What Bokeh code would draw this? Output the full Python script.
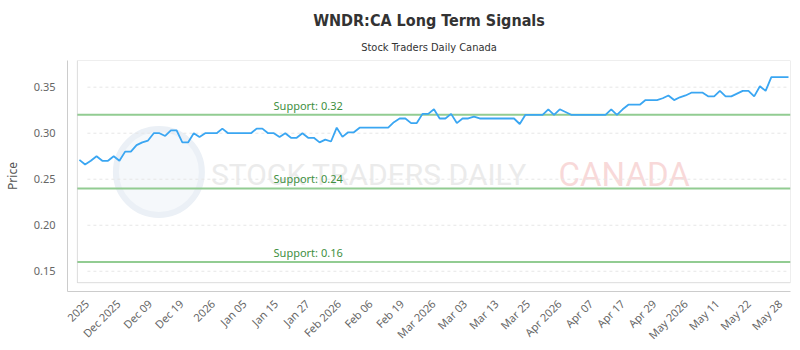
import numpy as np
from bokeh.plotting import figure
from bokeh.models import (Range1d, FixedTicker, CustomJSTickFormatter, NumeralTickFormatter,
                          Title, BoxAnnotation, ColumnDataSource)
from bokeh.core.properties import value
from bokeh.embed import file_html
from bokeh.resources import INLINE

# ---------------- data ----------------
prices = [
    0.271, 0.266, 0.270, 0.275, 0.270, 0.270, 0.275, 0.270, 0.280, 0.280,
    0.287, 0.290, 0.292, 0.300, 0.300, 0.297, 0.303, 0.303, 0.290, 0.290,
    0.300, 0.296, 0.300, 0.300, 0.300, 0.305, 0.300, 0.300, 0.300, 0.300,
    0.300, 0.305, 0.305, 0.300, 0.300, 0.296, 0.300, 0.295, 0.295, 0.300,
    0.295, 0.295, 0.290, 0.293, 0.291, 0.306, 0.296, 0.301, 0.301, 0.306,
    0.306, 0.306, 0.306, 0.306, 0.306, 0.312, 0.316, 0.316, 0.311, 0.311,
    0.321, 0.321, 0.326, 0.316, 0.316, 0.321, 0.311, 0.316, 0.316, 0.318,
    0.316, 0.316, 0.316, 0.316, 0.316, 0.316, 0.316, 0.310, 0.320, 0.320,
    0.320, 0.320, 0.326, 0.320, 0.326, 0.323, 0.320, 0.320, 0.320, 0.320,
    0.320, 0.320, 0.320, 0.326, 0.320, 0.326, 0.331, 0.331, 0.331, 0.336,
    0.336, 0.336, 0.338, 0.341, 0.336, 0.339, 0.341, 0.344, 0.344, 0.344,
    0.340, 0.340, 0.346, 0.340, 0.340, 0.343, 0.346, 0.346, 0.340, 0.351,
    0.346, 0.361, 0.361, 0.361, 0.361,
]

tick_labels = [
    "2025", "Dec 2025", "Dec 09", "Dec 19", "2026", "Jan 05", "Jan 15", "Jan 27",
    "Feb 2026", "Feb 06", "Feb 19", "Mar 2026", "Mar 03", "Mar 13", "Mar 25",
    "Apr 2026", "Apr 07", "Apr 17", "Apr 29", "May 2026", "May 11", "May 22", "May 28",
]

support_levels = [0.32, 0.24, 0.16]
support_texts = ["Support: 0.32", "Support: 0.24", "Support: 0.16"]
y_ticks = [0.15, 0.20, 0.25, 0.30, 0.35]

title_text = "WNDR:CA Long Term Signals"
subtitle_text = "Stock Traders Daily Canada"

# ---------------- layout / style ----------------
n = len(prices)
idx = np.arange(n)
pad = 0.35
x_left = -2.08
y_lo, y_hi = 0.128, 0.379
box_bottom = 0.1376
title_font = "DejaVu Sans Condensed"

p = figure(width=800, height=350, output_backend="svg", toolbar_location=None,
           x_range=Range1d(x_left, n - 1 + pad), y_range=Range1d(y_lo, y_hi),
           min_border_left=60, min_border_right=10, min_border_top=60, min_border_bottom=54,
           background_fill_color="white", border_fill_color="white")
p.outline_line_color = None
p.xgrid.visible = False
p.ygrid.visible = False

# titles (first added is nearest to the frame)
p.add_layout(Title(text=subtitle_text, align="center", text_font=title_font,
                   text_font_size="11px", text_font_style="normal", text_color="#333333",
                   standoff=13), "above")
p.add_layout(Title(text=title_text, align="center", text_font=title_font,
                   text_font_size="16px", text_font_style="bold", text_color="#333333",
                   standoff=6), "above")

# watermark
p.scatter(x=[13.9], y=[0.2578], marker="circle", size=86, fill_color="#f5f8fb",
          fill_alpha=1.0, line_color="#ebf0f6", line_width=6)
p.text(x=[23.0], y=[0.2555], text=["STOCK TRADERS DAILY"], text_font=value("Roboto"),
       text_font_size="30px", text_font_style="normal", text_color="#e6e6e6",
       text_baseline="middle", text_align="left", text_alpha=0.8)
p.text(x=[83.8], y=[0.2555], text=["CANADA"], text_font=value("Roboto"),
       text_font_size="33px", text_font_style="normal", text_color="#f6c9c9",
       text_baseline="middle", text_align="left", text_alpha=0.7)

# grid lines inside the box
grid_src = ColumnDataSource(dict(x0=[1.4] * len(y_ticks), x1=[n - 1] * len(y_ticks), y=y_ticks))
p.segment(x0="x0", y0="y", x1="x1", y1="y", source=grid_src, line_color="#e6e6e6",
          line_width=1, line_dash="3 3")

# inner bordered box
p.add_layout(BoxAnnotation(left=-pad, right=n - 1 + pad, bottom=box_bottom, top=y_hi,
                           fill_alpha=0, line_color="#8a8a8a", line_width=1))

# support lines
sup_src = ColumnDataSource(dict(x0=[-pad] * 3, x1=[n - 1 + pad] * 3, y=support_levels,
                                lx=[40.0] * 3, txt=support_texts))
p.segment(x0="x0", y0="y", x1="x1", y1="y", source=sup_src, line_color="#92cc92", line_width=2)
p.text(x="lx", y="y", text="txt", source=sup_src, text_font=value("Noto Sans"),
       text_font_size="11px", text_color="#3f8f3f", text_align="center",
       text_baseline="bottom", y_offset=-2)

# price line
p.line(idx, prices, line_color="#3aa6f2", line_width=1.8)

# axes
p.yaxis.ticker = FixedTicker(ticks=y_ticks)
p.yaxis.formatter = NumeralTickFormatter(format="0.00")
p.yaxis.axis_label = "Price"
p.yaxis.axis_label_text_font = "Noto Sans"
p.yaxis.axis_label_text_font_size = "12px"
p.yaxis.axis_label_text_font_style = "normal"
p.yaxis.axis_label_text_color = "#555555"
p.yaxis.axis_label_standoff = 10
p.yaxis.major_label_text_font = "Noto Sans"
p.yaxis.major_label_text_font_size = "11px"
p.yaxis.major_label_text_color = "#666666"
p.yaxis.major_label_standoff = 6
p.yaxis.major_tick_line_color = None
p.yaxis.minor_tick_line_color = None
p.yaxis.axis_line_color = "#cccccc"

tick_pos = list(np.linspace(1.3, 122.5, len(tick_labels)))
p.xaxis.ticker = FixedTicker(ticks=tick_pos)
p.xaxis.formatter = CustomJSTickFormatter(args=dict(labels=tick_labels), code="return labels[index];")
p.xaxis.major_label_orientation = np.pi / 4
p.xaxis.major_label_text_font = "Noto Sans"
p.xaxis.major_label_text_font_size = "11px"
p.xaxis.major_label_text_color = "#666666"
p.xaxis.major_label_standoff = 4
p.xaxis.major_tick_line_color = None
p.xaxis.minor_tick_line_color = None
p.xaxis.axis_line_color = "#cccccc"

open("out.html", "w").write(file_html(p, INLINE))
